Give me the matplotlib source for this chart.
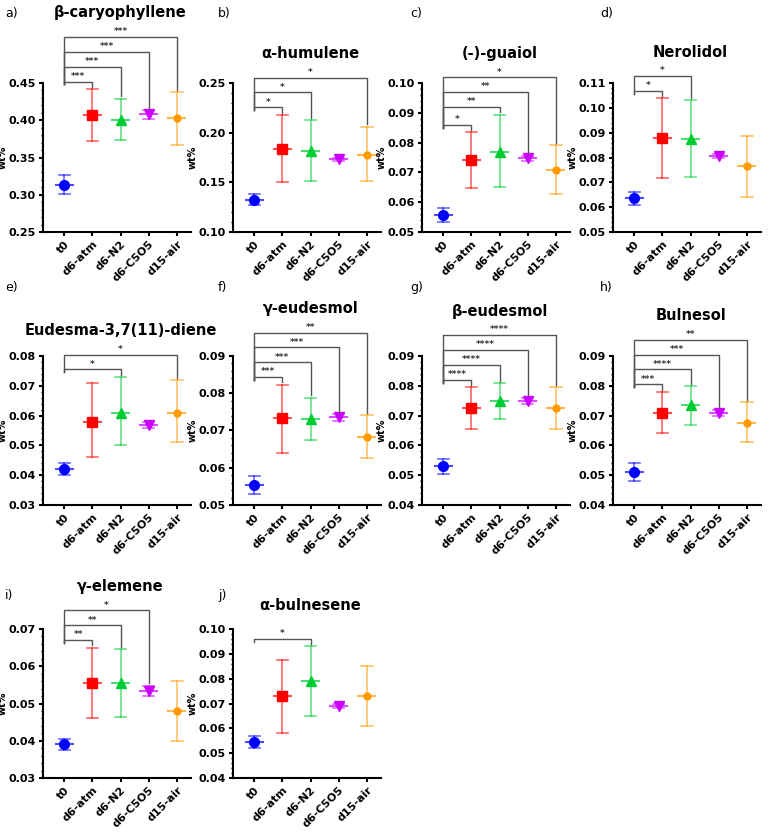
import numpy as np
import matplotlib.pyplot as plt
from matplotlib.ticker import MultipleLocator, FormatStrFormatter

groups = ['t0', 'd6-atm', 'd6-N2', 'd6-C5O5', 'd15-air']
colors = ['#0000ff', '#ff0000', '#00cc33', '#cc00ff', '#ff9900']
markers = ['o', 's', '^', 'v', 'o']
msizes = [7, 7, 7, 7, 5]

letters = ['a)', 'b)', 'c)', 'd)', 'e)', 'f)', 'g)', 'h)', 'i)', 'j)']
titles = ['β-caryophyllene', 'α-humulene', '(-)-guaiol', 'Nerolidol',
          'Eudesma-3,7(11)-diene', 'γ-eudesmol', 'β-eudesmol', 'Bulnesol',
          'γ-elemene', 'α-bulnesene']

means = [
    [0.313, 0.407, 0.401, 0.408, 0.403],
    [0.132, 0.184, 0.182, 0.173, 0.178],
    [0.0557, 0.0742, 0.0770, 0.0747, 0.0709],
    [0.0635, 0.0878, 0.0875, 0.0805, 0.0765],
    [0.042, 0.058, 0.061, 0.057, 0.061],
    [0.0553, 0.0733, 0.0731, 0.0735, 0.0683],
    [0.053, 0.0725, 0.075, 0.075, 0.0725],
    [0.051, 0.071, 0.0735, 0.071, 0.0675],
    [0.039, 0.0555, 0.0555, 0.0533, 0.048],
    [0.0545, 0.073, 0.079, 0.069, 0.073],
]
lows = [
    [0.301, 0.372, 0.374, 0.402, 0.367],
    [0.127, 0.150, 0.151, 0.171, 0.151],
    [0.0533, 0.0649, 0.0650, 0.0738, 0.0627],
    [0.0610, 0.0719, 0.0720, 0.0797, 0.0640],
    [0.040, 0.046, 0.050, 0.056, 0.051],
    [0.053, 0.064, 0.0675, 0.0725, 0.0625],
    [0.0505, 0.0655, 0.069, 0.074, 0.0655],
    [0.048, 0.064, 0.067, 0.070, 0.061],
    [0.0375, 0.046, 0.0465, 0.052, 0.040],
    [0.052, 0.058, 0.065, 0.068, 0.061],
]
highs = [
    [0.326, 0.442, 0.429, 0.414, 0.438],
    [0.138, 0.218, 0.213, 0.175, 0.206],
    [0.0581, 0.0835, 0.0894, 0.0756, 0.0791],
    [0.0660, 0.1038, 0.1031, 0.0813, 0.0888],
    [0.044, 0.071, 0.073, 0.058, 0.072],
    [0.0578, 0.0823, 0.0788, 0.0745, 0.0742],
    [0.0555, 0.0795, 0.081, 0.076, 0.0795],
    [0.054, 0.078, 0.080, 0.072, 0.0745],
    [0.0405, 0.065, 0.0645, 0.0548, 0.056],
    [0.057, 0.0875, 0.093, 0.070, 0.085],
]
ylims = [(0.25, 0.45), (0.10, 0.25), (0.05, 0.10), (0.05, 0.11), (0.03, 0.08),
         (0.05, 0.09), (0.04, 0.09), (0.04, 0.09), (0.03, 0.07), (0.04, 0.10)]
ysteps = [0.05, 0.05, 0.01, 0.01, 0.01, 0.01, 0.01, 0.01, 0.01, 0.01]
# significance brackets: (group index compared with t0, label)
sigs = [
    [(1, '***'), (2, '***'), (3, '***'), (4, '***')],
    [(1, '*'), (2, '*'), (4, '*')],
    [(1, '*'), (2, '**'), (3, '**'), (4, '*')],
    [(1, '*'), (2, '*')],
    [(2, '*'), (4, '*')],
    [(1, '***'), (2, '***'), (3, '***'), (4, '**')],
    [(1, '****'), (2, '****'), (3, '****'), (4, '****')],
    [(1, '***'), (2, '****'), (3, '***'), (4, '**')],
    [(1, '**'), (2, '**'), (3, '*')],
    [(2, '*')],
]

W, H = 774, 832
fig = plt.figure(figsize=(W / 100, H / 100), dpi=100)
col_left = [43, 233, 422, 613]
row_top = [83, 356, 629]
letter_pos = [(5, 13), (218, 13), (410, 13), (600, 13),
              (5, 287), (218, 287), (410, 287), (600, 287),
              (5, 596), (218, 596)]
ax_w, ax_h = 148, 149

for k in range(10):
    r, c = divmod(k, 4)
    ax = fig.add_axes([col_left[c] / W, 1 - (row_top[r] + ax_h) / H, ax_w / W, ax_h / H])
    lo, hi = ylims[k]
    rng = hi - lo
    x = np.arange(5)
    for i in range(5):
        col = colors[i]
        ax.plot([i, i], [lows[k][i], highs[k][i]], color=col, lw=1.2, alpha=0.6)
        for yv in (lows[k][i], highs[k][i]):
            ax.plot([i - 0.2, i + 0.2], [yv, yv], color=col, lw=1.2, alpha=0.6)
        ax.plot([i - 0.3, i + 0.3], [means[k][i], means[k][i]], color=col, lw=1.5, alpha=0.7)
        ax.plot(i, means[k][i], marker=markers[i], color=col, ms=msizes[i], ls='none')

    # brackets
    prev = None
    first = None
    for j, lab in sigs[k]:
        yb = highs[k][j] + 0.05 * rng
        if prev is not None:
            yb = max(yb, prev + 0.1 * rng)
        if first is None:
            first = yb
        ax.plot([0, 0, j, j], [first - 0.02 * rng, yb, yb, highs[k][j] + 0.015 * rng],
                color='#555555', lw=1.0, clip_on=False)
        ax.text(j / 2, yb + 0.005 * rng, lab, ha='center', va='bottom', fontsize=6.5,
                fontweight='bold', color='#333333')
        prev = yb
    top = prev if prev is not None else hi
    ax.text(2, max(top, hi) + 0.11 * rng, titles[k], ha='center', va='bottom',
            fontsize=10.5, fontweight='bold')

    ax.set_xlim(-0.75, 4.5)
    ax.set_ylim(lo, hi)
    ax.yaxis.set_major_locator(MultipleLocator(ysteps[k]))
    ax.yaxis.set_major_formatter(FormatStrFormatter('%.2f'))
    ax.yaxis.set_minor_locator(MultipleLocator(ysteps[k] / 5))
    ax.set_xticks(x)
    ax.set_xticklabels(groups, rotation=45, ha='right', rotation_mode='anchor')
    ax.set_ylabel('wt%', fontsize=7, fontweight='bold', labelpad=1)
    ax.spines['top'].set_visible(False)
    ax.spines['right'].set_visible(False)
    ax.spines['left'].set_linewidth(1.5)
    ax.spines['bottom'].set_linewidth(1.5)
    ax.tick_params(axis='both', width=1.5, length=3, labelsize=8, pad=2)
    ax.tick_params(axis='y', which='minor', length=1.5, width=1)
    for t in ax.get_xticklabels() + ax.get_yticklabels():
        t.set_fontweight('bold')
    lx, ly = letter_pos[k]
    fig.text(lx / W, 1 - ly / H, letters[k], fontsize=9, va='center')

fig.savefig('out.png', dpi=100)
